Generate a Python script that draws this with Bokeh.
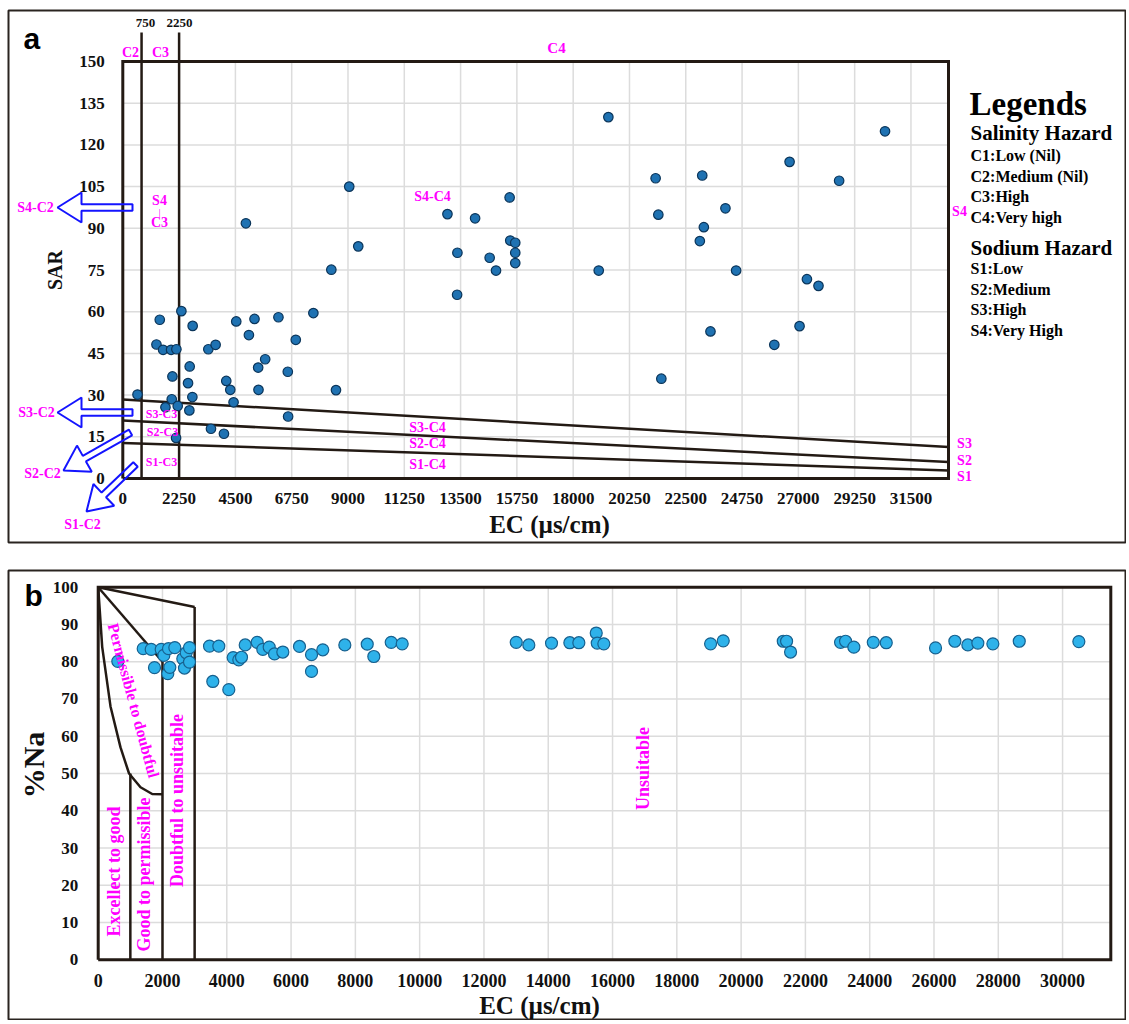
import math
from bokeh.plotting import figure
from bokeh.models import Range1d, FixedTicker, Label, PolyAnnotation
from bokeh.layouts import column
from bokeh.embed import file_html
from bokeh.resources import INLINE

# ---------------- data: panel a (USSL / Richards diagram) ----------------
ec_a = [588, 1345, 1477, 1610, 1704, 1930, 1956, 1983, 2129, 2142, 2195, 2341, 2607, 2660,
        2673, 2780, 2792, 3418, 3524, 3710, 4042, 4135, 4295, 4427, 4534, 4920, 5040, 5264,
        5410, 5423, 5690, 6220, 6594, 6607, 6913, 7616, 8334, 8520, 9050, 9410, 12975, 13361,
        13373, 14080, 14662, 14916, 15460, 15485, 15685, 15685, 15685, 19021, 19406, 21295,
        21403, 21523, 23062, 23158, 23222, 23487, 24085, 24512, 26038, 26649, 27047, 27342,
        27804, 28629, 30463]
sar_a = [30.2, 48.2, 57.1, 46.3, 25.6, 46.3, 28.5, 36.7, 14.6, 46.5, 26.1, 60.2, 34.3, 24.5,
         40.3, 29.3, 54.9, 46.5, 17.9, 48.1, 16.1, 35.1, 31.9, 27.4, 56.5, 91.8, 51.6, 57.4,
         39.9, 31.9, 42.9, 58.0, 38.4, 22.3, 49.9, 59.5, 75.1, 31.8, 105.0, 83.5, 95.1, 66.1,
         81.2, 93.6, 79.4, 74.8, 101.1, 85.6, 84.8, 81.2, 77.5, 74.8, 130.0, 108.0,
         94.9, 35.9, 85.4, 109.0, 90.4, 52.9, 97.2, 74.8, 48.1, 113.9, 54.8, 71.7,
         69.3, 107.1, 124.9]

ec_ticks_a = [0, 2250, 4500, 6750, 9000, 11250, 13500, 15750, 18000, 20250, 22500, 24750,
              27000, 29250, 31500]
sar_ticks = [0, 15, 30, 45, 60, 75, 90, 105, 120, 135, 150]
EC_MAX_A, SAR_MAX = 33000, 150

salinity_bounds = [750, 2250]          # C2/C3 and C3/C4 limits
salinity_top = 160.4                   # lines run above the box to their labels
sodium_sar_left = [28.4, 20.9, 12.8]   # S3/S4, S2/S3, S1/S2 lines at EC = 0
sodium_sar_right = [11.3, 5.9, 2.9]    # same lines at EC = 33000

# ---------------- data: panel b (Wilcox diagram) ----------------
ec_b = [610, 1400, 1649, 1751, 1960, 2041, 2165, 2187, 2228, 2383, 2632, 2684, 2738, 2840,
        2840, 3463, 3565, 3752, 4063, 4199, 4374, 4458, 4573, 4946, 5121, 5320, 5485, 5743,
        6262, 6636, 6636, 6987, 7672, 8369, 8574, 9115, 9457, 13004, 13396, 14102, 14672,
        14952, 15493, 15524, 15729, 19050, 19444, 21311, 21414, 21538, 23093, 23249, 23507,
        24111, 24515, 26048, 26649, 27053, 27364, 27831, 28652, 30506]
na_b = [80.1, 83.5, 83.3, 78.4, 83.3, 81.7, 76.8, 83.5, 78.5, 83.8, 80.8, 78.3, 82.4, 83.8,
        79.9, 84.2, 74.7, 84.2, 72.5, 81.1, 80.5, 81.2, 84.5, 85.2, 83.3, 83.9, 82.1, 82.6,
        84.1, 81.9, 77.4, 83.2, 84.5, 84.7, 81.4, 85.2, 84.8, 85.2, 84.5, 85.0, 85.1,
        85.1, 87.7, 85.0, 84.8, 84.8, 85.6, 85.5, 85.5, 82.6, 85.2, 85.5, 83.9,
        85.2, 85.1, 83.7, 85.5, 84.5, 85.0, 84.8, 85.5, 85.4]

ec_ticks_b = [0, 2000, 4000, 6000, 8000, 10000, 12000, 14000, 16000, 18000, 20000, 22000,
              24000, 26000, 28000, 30000]
na_ticks = [0, 10, 20, 30, 40, 50, 60, 70, 80, 90, 100]
EC_MAX_B, NA_MAX = 31500, 100

# Wilcox class boundaries (EC, %Na)
wil_xs = [[0, 2000], [0, 3000], [3000, 3000], [2000, 2000], [1000, 1000],
          [0, 124, 383, 694, 960, 1316, 1680, 2000]]
wil_ys = [[100, 80], [100, 94.7], [94.7, 0], [80, 0], [50, 0],
          [100, 84, 68, 57, 50, 46.3, 44.5, 44.4]]

# ---------------- styling / geometry ----------------
SERIF = "Liberation Serif"
MAG = "#ff00ff"
LINE = "#231a14"
GRID = "#dcdcdc"
W = 1126

# panel a: figure occupies page y 0..556; box (data area) in page pixels
HA = 556
A_BOX = (122.3, 948.0, 61.0, 478.0)       # x0, x1, ytop, ybottom
A_FRAME = (8, 1125, 10, 542)              # outer panel frame (left, right, top, bottom)

def a_xy(px, py):
    x0, x1, yt, yb = A_BOX
    return ((px - x0) * EC_MAX_A / (x1 - x0), (yb - py) * SAR_MAX / (yb - yt))

# panel b: figure occupies page y 556..1020
B_TOP = 556
HB = 464
B_BOX = (97.7, 1110.3, 586.7, 959.3)
B_FRAME = (8, 1125, 570, B_TOP + HB)

def b_xy(px, py):
    x0, x1, yt, yb = B_BOX
    return ((px - x0) * EC_MAX_B / (x1 - x0), (yb - py) * NA_MAX / (yb - yt))


def make_fig(conv, frame, top, height):
    l, r, t, b = frame
    xr = Range1d(conv(l, 0)[0], conv(r, 0)[0])
    yr = Range1d(conv(0, b)[1], conv(0, t)[1])
    p = figure(width=W, height=height, x_range=xr, y_range=yr, output_backend="svg",
               toolbar_location=None, min_border_left=l, min_border_right=W - r,
               min_border_top=t - top, min_border_bottom=top + height - b)
    p.xgrid.visible = False
    p.ygrid.visible = False
    p.outline_line_color = "#2a2420"
    p.outline_line_width = 2
    p.background_fill_color = "white"
    p.border_fill_color = "white"
    return p


def style_axes(p, xticks, yticks, xlabel, ylabel, xl_size, yl_size, xtick_size, ytick_size,
               x_std, y_std, x_lstd, y_lstd, xbounds, ybounds):
    p.xaxis.ticker = FixedTicker(ticks=xticks)
    p.yaxis.ticker = FixedTicker(ticks=yticks)
    p.xaxis.fixed_location = 0
    p.yaxis.fixed_location = 0
    p.xaxis.bounds = xbounds
    p.yaxis.bounds = ybounds
    for ax in (p.xaxis, p.yaxis):
        ax.axis_line_color = None
        ax.major_tick_line_color = None
        ax.minor_tick_line_color = None
        ax.major_label_text_font = SERIF
        ax.major_label_text_font_style = "bold"
        ax.major_label_text_color = "#111111"
        ax.axis_label_text_font = SERIF
        ax.axis_label_text_font_style = "bold"
        ax.axis_label_text_color = "#111111"
    p.xaxis.major_label_text_font_size = xtick_size
    p.yaxis.major_label_text_font_size = ytick_size
    p.xaxis.major_label_standoff = x_std
    p.yaxis.major_label_standoff = y_std
    p.xaxis.axis_label = xlabel
    p.yaxis.axis_label = ylabel
    p.xaxis.axis_label_text_font_size = xl_size
    p.yaxis.axis_label_text_font_size = yl_size
    p.xaxis.axis_label_standoff = x_lstd
    p.yaxis.axis_label_standoff = y_lstd


def grid_and_box(p, xticks, yticks, xmax, ymax):
    xs = [t for t in xticks if 0 < t < xmax]
    ys = [t for t in yticks if 0 < t < ymax]
    p.segment(x0=xs, y0=[0] * len(xs), x1=xs, y1=[ymax] * len(xs),
              line_color=GRID, line_width=1.5, level="underlay")
    p.segment(x0=[0] * len(ys), y0=ys, x1=[xmax] * len(ys), y1=ys,
              line_color=GRID, line_width=1.5, level="underlay")
    p.line([0, xmax, xmax, 0, 0], [0, 0, ymax, ymax, 0], line_color=LINE, line_width=3,
           line_join="miter")


def lab(p, conv, px, py, text, size, color=MAG, align="center", baseline="middle",
        font=SERIF, style="bold", angle=0):
    x, y = conv(px, py)
    p.add_layout(Label(x=x, y=y, text=text, text_font=font, text_font_style=style,
                       text_font_size=f"{size}px", text_color=color, text_align=align,
                       text_baseline=baseline, angle=angle, angle_units="deg"))


def block_arrow(conv, tail, tip, w=3.2, L=24, H=15):
    tx, ty = tail
    px, py = tip
    d = math.hypot(px - tx, py - ty)
    ux, uy = (px - tx) / d, (py - ty) / d
    nx, ny = -uy, ux
    bx, by = px - L * ux, py - L * uy
    pts = [(tx + w * nx, ty + w * ny), (bx + w * nx, by + w * ny), (bx + H * nx, by + H * ny),
           (px, py), (bx - H * nx, by - H * ny), (bx - w * nx, by - w * ny),
           (tx - w * nx, ty - w * ny)]
    xs, ys = zip(*[conv(a, b) for a, b in pts])
    return list(xs), list(ys)

# =============================== panel a ===============================
pa = make_fig(a_xy, A_FRAME, 0, HA)
style_axes(pa, ec_ticks_a, sar_ticks, "EC (µs/cm)", "SAR", "25px", "20px", "17px", "17px",
           8, 12, 4, 10, (0, 34100), (0, SAR_MAX))
grid_and_box(pa, ec_ticks_a, sar_ticks, EC_MAX_A, SAR_MAX)

# sodium hazard boundary lines
pa.segment(x0=[0] * 3, y0=sodium_sar_left, x1=[EC_MAX_A] * 3, y1=sodium_sar_right,
           line_color=LINE, line_width=2.5)
# salinity hazard boundaries (continue above the box)
pa.segment(x0=salinity_bounds, y0=[0, 0], x1=salinity_bounds, y1=[salinity_top] * 2,
           line_color=LINE, line_width=2.5)

pa.scatter(ec_a, sar_a, size=9.5, fill_color="#1f72b2", line_color="#0b355a", line_width=1.2)

# top labels
lab(pa, a_xy, 145, 22, "750", 13, color="#111111")
lab(pa, a_xy, 179, 22, "2250", 13, color="#111111")
lab(pa, a_xy, 130, 52, "C2", 14)
lab(pa, a_xy, 160, 52, "C3", 14)
lab(pa, a_xy, 556, 47, "C4", 15)
# zone labels
lab(pa, a_xy, 432, 196, "S4-C4", 14)
lab(pa, a_xy, 159, 200, "S4", 14)
lab(pa, a_xy, 159, 211, "|", 11, style="normal")
lab(pa, a_xy, 159, 222, "C3", 14)
lab(pa, a_xy, 161, 413, "S3-C3", 12)
lab(pa, a_xy, 162, 431, "S2-C3", 12)
lab(pa, a_xy, 161, 461, "S1-C3", 12)
lab(pa, a_xy, 427, 427, "S3-C4", 14)
lab(pa, a_xy, 427, 443, "S2-C4", 14)
lab(pa, a_xy, 427, 464, "S1-C4", 14)
lab(pa, a_xy, 959, 211, "S4", 14)
lab(pa, a_xy, 964, 443, "S3", 14)
lab(pa, a_xy, 964, 460, "S2", 14)
lab(pa, a_xy, 964, 476, "S1", 14)
# arrows pointing to the empty C2 classes
for tail, tip, text, tpos in [((132, 207), (57, 207), "S4-C2", (35, 207)),
                              ((132, 412), (57, 412), "S3-C2", (36, 412)),
                              ((130, 432), (63, 470), "S2-C2", (42, 473)),
                              ((135, 464), (86, 511), "S1-C2", (82, 524))]:
    xs, ys = block_arrow(a_xy, tail, tip)
    pa.add_layout(PolyAnnotation(xs=xs, ys=ys, fill_color=None, fill_alpha=0,
                                 line_color="#1414ff", line_alpha=1.0, line_width=2))
    lab(pa, a_xy, tpos[0], tpos[1], text, 14)

# legend text block
lab(pa, a_xy, 969, 103, "Legends", 33, color="#000000", align="left", baseline="alphabetic")
lab(pa, a_xy, 970, 132, "Salinity Hazard", 21, color="#000000", align="left", baseline="alphabetic")
for i, t in enumerate(["C1:Low (Nil)", "C2:Medium (Nil)", "C3:High", "C4:Very high"]):
    lab(pa, a_xy, 970, 155 + 20.5 * i, t, 16, color="#000000", align="left", baseline="alphabetic")
lab(pa, a_xy, 970, 247, "Sodium Hazard", 21, color="#000000", align="left", baseline="alphabetic")
for i, t in enumerate(["S1:Low", "S2:Medium", "S3:High", "S4:Very High"]):
    lab(pa, a_xy, 970, 268 + 20.7 * i, t, 16, color="#000000", align="left", baseline="alphabetic")

lab(pa, a_xy, 23, 38, "a", 30, color="#000000", align="left", font="Liberation Sans")

# =============================== panel b ===============================
pb = make_fig(b_xy, B_FRAME, B_TOP, HB)
style_axes(pb, ec_ticks_b, na_ticks, "EC (µs/cm)", "%Na", "25px", "30px", "18px", "17px",
           8, 14, 2, 0, (-2600, 30060), (0, 109.6))
grid_and_box(pb, ec_ticks_b, na_ticks, EC_MAX_B, NA_MAX)

pb.multi_line(xs=wil_xs, ys=wil_ys, line_color=LINE, line_width=2.5)
pb.scatter(ec_b, na_b, size=12, fill_color="#2eb2ea", line_color="#17618f", line_width=1.2)

lab(pb, b_xy, 113, 871, "Excellect to good", 18, angle=90)
lab(pb, b_xy, 143, 874, "Good to permissible", 18, angle=90)
lab(pb, b_xy, 176, 800, "Doubtful to unsuitable", 18, angle=90)
lab(pb, b_xy, 133, 700, "Permissible to doubtful", 16, angle=-75)
lab(pb, b_xy, 642, 768, "Unsuitable", 18, angle=90)
lab(pb, b_xy, 24, 595, "b", 30, color="#000000", align="left", font="Liberation Sans")

layout = column(pa, pb)
open("out.html", "w").write(file_html(layout, INLINE))
